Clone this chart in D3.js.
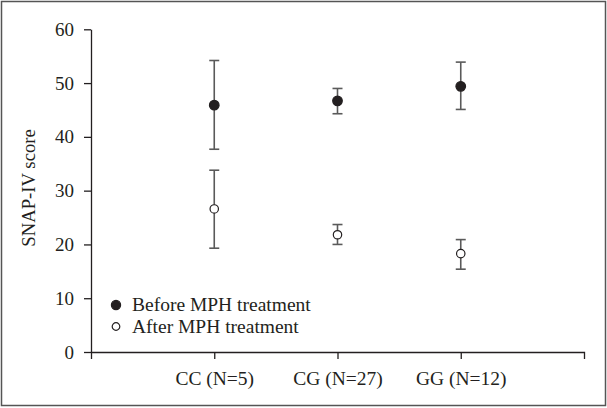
<!DOCTYPE html>
<html>
<head>
<meta charset="utf-8">
<script src="https://cdn.jsdelivr.net/npm/d3@7"></script>
<style>
	body { margin: 0; background: #fff; }
	svg text { font-family: "Liberation Serif", "Times New Roman", serif; fill: #231f20; }
</style>
</head>
<body>
<script>
	var categories = ["CC (N=5)", "CG (N=27)", "GG (N=12)"];
	// means with lower / upper error bar ends
	var beforeMean = [45.9, 46.7, 49.4];
	var beforeLow  = [37.7, 44.3, 45.1];
	var beforeHigh = [54.2, 49.0, 53.9];
	var afterMean  = [26.6, 21.8, 18.3];
	var afterLow   = [19.3, 20.0, 15.4];
	var afterHigh  = [33.8, 23.7, 20.9];
	var yTicks = [0, 10, 20, 30, 40, 50, 60];
	var legendLabels = ["Before MPH treatment", "After MPH treatment"];

	var w = 607;
	var h = 408;
	var ink = "#231f20";

	var svg = d3.select("body").append("svg")
		.attr("width", w)
		.attr("height", h);

	// outer frame
	svg.append("rect")
		.attr("x", 1.5).attr("y", 1.5)
		.attr("width", w - 3).attr("height", h - 4)
		.attr("fill", "none")
		.attr("stroke", "#555")
		.attr("stroke-width", 1.5);

	var x = d3.scaleLinear().domain([0, 4]).range([91, 584]);
	var y = d3.scaleLinear().domain([0, 60]).range([352, 29.3]);

	var xAxis = d3.axisBottom(x)
		.tickValues([1, 2, 3])
		.tickSize(7)
		.tickSizeOuter(7)
		.tickPadding(12)
		.tickFormat(function(d) { return categories[d - 1]; });

	var gx = svg.append("g")
		.attr("transform", "translate(0," + y(0) + ")")
		.call(xAxis);

	var yAxis = d3.axisLeft(y)
		.tickValues(yTicks)
		.tickSize(7)
		.tickSizeOuter(0)
		.tickPadding(10);

	var gy = svg.append("g")
		.attr("transform", "translate(" + x(0) + ",0)")
		.call(yAxis);

	[gx, gy].forEach(function(g) {
		g.selectAll("path, line").attr("stroke", ink).attr("stroke-width", 1.3);
		g.selectAll("text")
			.attr("font-family", null)
			.attr("font-size", "19px")
			.attr("fill", ink);
	});
	gx.selectAll("text").attr("dy", "0.71em").attr("font-size", "19.5px");

	svg.append("text")
		.attr("transform", "translate(35," + y(30.5) + ") rotate(-90)")
		.attr("text-anchor", "middle")
		.attr("font-size", "18.7px")
		.text("SNAP-IV score");

	function drawSeries(mean, low, high, filled, r) {
		var data = mean.map(function(m, i) {
			return { i: i + 1, m: m, lo: low[i], hi: high[i] };
		});
		var g = svg.append("g");
		var bars = g.selectAll("g.bar")
			.data(data)
			.enter()
			.append("g")
			.attr("class", "bar")
			.attr("stroke", "#5a5a5a")
			.attr("stroke-width", 1.6);
		bars.append("line")
			.attr("x1", function(d) { return x(d.i); })
			.attr("x2", function(d) { return x(d.i); })
			.attr("y1", function(d) { return y(d.lo); })
			.attr("y2", function(d) { return y(d.hi); });
		bars.append("line")
			.attr("x1", function(d) { return x(d.i) - 5; })
			.attr("x2", function(d) { return x(d.i) + 5; })
			.attr("y1", function(d) { return y(d.hi); })
			.attr("y2", function(d) { return y(d.hi); });
		bars.append("line")
			.attr("x1", function(d) { return x(d.i) - 5; })
			.attr("x2", function(d) { return x(d.i) + 5; })
			.attr("y1", function(d) { return y(d.lo); })
			.attr("y2", function(d) { return y(d.lo); });
		g.selectAll("circle")
			.data(data)
			.enter()
			.append("circle")
			.attr("cx", function(d) { return x(d.i); })
			.attr("cy", function(d) { return y(d.m); })
			.attr("r", r)
			.attr("fill", filled ? ink : "#fff")
			.attr("stroke", ink)
			.attr("stroke-width", 1.2);
	}

	drawSeries(beforeMean, beforeLow, beforeHigh, true, 4.8);
	drawSeries(afterMean, afterLow, afterHigh, false, 4.2);

	// legend
	var legend = svg.selectAll("g.legend")
		.data(legendLabels)
		.enter()
		.append("g")
		.attr("class", "legend")
		.attr("transform", function(d, i) {
			return "translate(116," + (305 + i * 21.5) + ")";
		});
	legend.append("circle")
		.attr("r", function(d, i) { return i === 0 ? 4.6 : 3.8; })
		.attr("fill", function(d, i) { return i === 0 ? ink : "#fff"; })
		.attr("stroke", ink)
		.attr("stroke-width", 1.2);
	legend.append("text")
		.attr("x", 16)
		.attr("dy", "0.33em")
		.attr("font-size", "19.5px")
		.text(function(d) { return d; });
</script>
</body>
</html>
